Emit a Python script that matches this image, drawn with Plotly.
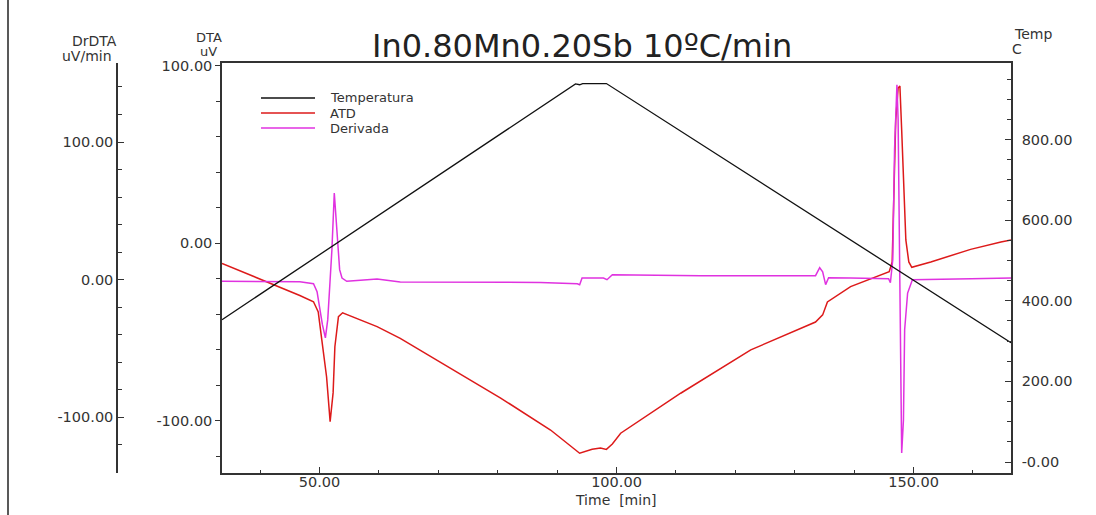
import plotly.graph_objects as go

# ---- data ----
temp_time = [33.6, 93.1, 93.8, 94.3, 98.3, 166.4]
temp_vals = [353, 938, 936, 939, 939, 296]

dta_time = [33.6, 43.4, 46.7, 49.0, 49.8, 50.4, 51.2, 51.8, 52.3, 52.6, 53.2, 53.9,
            59.7, 63.6, 72.0, 80.5, 88.9, 93.8, 95.9, 97.3, 98.3, 99.3, 100.7, 110.8,
            122.6, 133.5, 134.7, 135.5, 139.4, 145.9, 146.4, 146.7, 147.0, 147.4, 147.7,
            148.0, 148.4, 148.7, 149.2, 149.7, 152.9, 159.6, 164.7, 166.4]
dta_vals = [-11.3, -24.6, -29.4, -32.9, -38.7, -54.4, -75.1, -100.4, -84.2, -58.2, -41.3, -39.1,
            -46.9, -53.5, -70.2, -87.1, -105.1, -118.2, -115.9, -115.2, -116.0, -113.0, -106.9, -84.4,
            -60.0, -44.3, -40.3, -33.0, -24.4, -16.0, -10.5, 24.4, 69.4, 87.4, 88.5,
            63.8, 24.4, 1.9, -10.5, -13.5, -10.5, -3.4, 0.7, 1.9]

dr_time = [33.6, 43.4, 46.7, 49.0, 49.6, 50.0, 50.5, 51.0, 51.4, 51.8, 52.1, 52.5, 52.7,
           53.0, 53.4, 53.8, 54.6, 56.9, 59.7, 63.6, 87.2, 93.4, 93.8, 94.2, 97.8, 98.4,
           99.3, 114.2, 133.5, 134.2, 134.7, 135.2, 135.7, 139.4, 145.8, 146.1, 146.5,
           146.8, 147.2, 147.4, 147.7, 147.9, 148.0, 148.3, 148.5, 149.0, 149.8, 159.7, 166.4]
dr_vals = [-1.2, -1.2, -1.5, -2.9, -8.7, -19.4, -32.7, -42.3, -29.0, 0.0, 21.8, 63.0, 50.8,
           26.7, 7.3, 1.2, -1.2, -0.4, 0.5, -1.7, -2.0, -2.9, -3.6, 1.2, 1.2, 0.0,
           3.6, 2.9, 2.9, 8.7, 5.8, -3.6, 1.5, 1.2, 0.7, -2.2, 14.5,
           94.4, 141.6, 116.2, 0.0, -72.6, -125.9, -101.7, -36.3, -9.7, 0.0, 0.7, 1.2]

x_ticks = [50, 100, 150]
x_ticklabels = ["50.00", "100.00", "150.00"]
dta_ticks = [-100, 0, 100]
dta_ticklabels = ["-100.00", "0.00", "100.00"]
dr_ticks = [-100, 0, 100]
dr_ticklabels = ["-100.00", "0.00", "100.00"]
temp_ticks = [0, 200, 400, 600, 800]
temp_ticklabels = ["-0.00", "200.00", "400.00", "600.00", "800.00"]

series_names = ["Temperatura", "ATD", "Derivada"]
series_colors = ["#111111", "#dd1a1a", "#e032e0"]

# ---- layout geometry ----
W, H = 1096, 515
ML, MR, MT, MB = 40, 85, 63, 42
PW = W - ML - MR
PH = H - MT - MB


def px(x):
    return (x - ML) / PW


def py(y):
    return (H - MB - y) / PH


FONT = "DejaVu Sans"
AX = "#333333"
TXT = "#333333"

fig = go.Figure()
fig.add_trace(go.Scatter(x=temp_time, y=temp_vals, mode="lines", name=series_names[0],
                         line=dict(color=series_colors[0], width=1.3), yaxis="y3"))
fig.add_trace(go.Scatter(x=dta_time, y=dta_vals, mode="lines", name=series_names[1],
                         line=dict(color=series_colors[1], width=1.5), yaxis="y"))
fig.add_trace(go.Scatter(x=dr_time, y=dr_vals, mode="lines", name=series_names[2],
                         line=dict(color=series_colors[2], width=1.5), yaxis="y2"))

tickfont = dict(family=FONT, size=14.5, color=TXT)

fig.update_layout(
    width=W, height=H,
    margin=dict(l=ML, r=MR, t=MT, b=MB, pad=0),
    paper_bgcolor="white", plot_bgcolor="white",
    showlegend=False,
    xaxis=dict(domain=[px(222), 1], range=[33.6, 166.4], showgrid=False, zeroline=False,
               showline=True, linecolor=AX, linewidth=1.5, mirror=True,
               tickvals=x_ticks, ticktext=x_ticklabels, ticks="inside", ticklen=6,
               tickcolor=AX, tickfont=tickfont, ticklabelstandoff=-5,
               minor=dict(dtick=10, tick0=0, ticks="inside", ticklen=3, tickcolor=AX, showgrid=False)),
    yaxis=dict(range=[-129.3, 101.5], showgrid=False, zeroline=False, showline=True,
               linecolor=AX, linewidth=1.5, side="left", anchor="x",
               tickvals=dta_ticks, ticktext=dta_ticklabels, ticks="outside", ticklen=5,
               tickcolor=AX, tickfont=tickfont,
               minor=dict(dtick=20, tick0=0, ticks="outside", ticklen=4, tickcolor=AX, showgrid=False)),
    yaxis2=dict(range=[-140.4, 157.4], overlaying="y", anchor="free", position=px(117),
                side="left", showgrid=False, zeroline=False, showline=True,
                linecolor=AX, linewidth=1.5,
                tickvals=dr_ticks, ticktext=dr_ticklabels, ticks="inside", ticklen=6,
                tickcolor=AX, tickfont=tickfont,
                minor=dict(dtick=20, tick0=0, ticks="inside", ticklen=4, tickcolor=AX, showgrid=False)),
    yaxis3=dict(range=[-27.3, 990], overlaying="y", anchor="x", side="right",
                showgrid=False, zeroline=False, showline=True, linecolor=AX, linewidth=1.5,
                tickvals=temp_ticks, ticktext=temp_ticklabels, ticks="inside", ticklen=6,
                tickcolor=AX, tickfont=tickfont, ticklabelstandoff=6,
                minor=dict(dtick=50, tick0=0, ticks="inside", ticklen=4, tickcolor=AX, showgrid=False)),
)

annots = [
    ("In0.80Mn0.20Sb 10ºC/min", 582, 46.5, 32, "#222222"),
    ("DrDTA", 94.5, 41, 14, TXT),
    ("uV/min", 86.5, 56, 14, TXT),
    ("DTA", 209, 38, 13, TXT),
    ("uV", 208, 52, 13, TXT),
    ("Temp", 1033, 34, 14, TXT),
    ("C", 1017, 49.5, 14, TXT),
    ("Time\u00a0 [min]", 616, 500, 14, TXT),
]
for text, x, y, size, col in annots:
    fig.add_annotation(text=text, x=px(x), y=py(y), xref="paper", yref="paper",
                       xanchor="center", yanchor="middle", showarrow=False,
                       font=dict(family=FONT, size=size, color=col))

# legend (drawn by hand to match the tight row spacing of the reference)
legend_rows_y = [98, 113, 128]
for name, col, yy in zip(series_names, series_colors, legend_rows_y):
    fig.add_shape(type="line", xref="paper", yref="paper", x0=px(261), x1=px(315),
                  y0=py(yy), y1=py(yy), line=dict(color=col, width=1.3))
    fig.add_annotation(text=name, x=px(328), y=py(yy), xref="paper", yref="paper",
                       xanchor="left", yanchor="middle", showarrow=False,
                       font=dict(family=FONT, size=13, color=TXT))

# outer frame edge on the left
fig.add_shape(type="line", xref="paper", yref="paper", x0=px(8), x1=px(8), y0=py(0), y1=py(515),
              line=dict(color="#222222", width=1.5))

fig.write_html("out.html")
